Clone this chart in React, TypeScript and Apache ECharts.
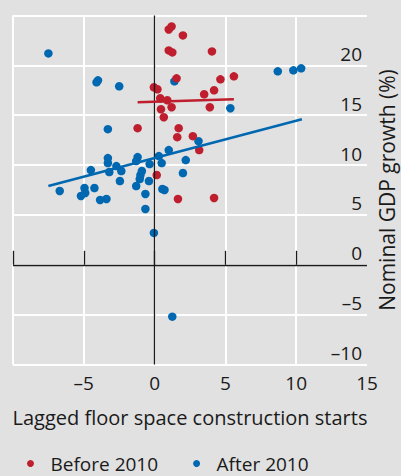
import React, { useEffect, useRef } from "react";
import * as echarts from "echarts";

const before2010: [number, number][] = [
  [1.0, 23.6], [1.2, 23.9], [2.0, 23.0], [1.0, 21.5], [1.25, 21.3], [4.05, 21.4],
  [1.55, 18.7], [4.65, 18.6], [5.6, 18.9], [-0.05, 17.8], [0.2, 17.6], [4.2, 17.5],
  [3.5, 17.1], [0.4, 16.7], [0.9, 16.5], [0.45, 15.6], [1.2, 15.8], [3.9, 15.8],
  [0.65, 14.8], [-1.2, 13.7], [1.7, 13.7], [1.6, 12.8], [2.7, 12.9], [3.15, 11.5],
  [0.15, 9.0], [1.65, 6.6], [4.2, 6.7],
];

const after2010: [number, number][] = [
  [-7.5, 21.2], [-4.0, 18.5], [-4.1, 18.3], [-2.5, 17.9], [1.4, 18.4], [-3.3, 13.6],
  [8.7, 19.4], [9.8, 19.5], [10.35, 19.7], [5.35, 15.7], [3.1, 12.4], [1.0, 11.5],
  [2.2, 10.5], [2.0, 9.2], [0.3, 10.9], [0.5, 10.2], [0.55, 7.6], [0.7, 7.5],
  [-0.05, 3.2], [1.25, -5.2], [-3.3, 10.7], [-3.3, 10.2], [-4.5, 9.5], [-2.7, 9.9],
  [-3.2, 9.3], [-2.35, 9.4], [-2.45, 8.4], [-1.2, 10.8], [-1.3, 10.4], [-0.35, 10.1],
  [-0.9, 9.4], [-1.0, 9.0], [-1.05, 8.6], [-0.4, 8.4], [-1.3, 7.9], [-0.65, 7.1],
  [-0.65, 5.6], [-6.7, 7.4], [-4.95, 7.7], [-4.9, 7.2], [-5.2, 6.9], [-4.25, 7.7],
  [-3.85, 6.5], [-3.4, 6.6],
];

const beforeTrend: [number, number][] = [[-1.2, 16.3], [5.6, 16.6]];
const afterTrend: [number, number][] = [[-7.5, 7.9], [10.4, 14.6]];

const xTickLabels = [-5, 0, 5, 10, 15];
const xTickMarks = [-10, -5, 0, 5, 10];
const yTickLabels = [-10, -5, 0, 5, 10, 15, 20];

const RED = "#be1e2d";
const BLUE = "#0067b1";
const BG = "#e1e1e1";
const TEXT = "#1a1a1a";
const FONT = "Open Sans";

const fmt = (v: number) => (v < 0 ? "\u2013" + Math.abs(v) : String(v));

export default function App() {
  const ref = useRef<HTMLDivElement>(null);
  useEffect(() => {
    document.body.style.margin = "0";
    document.body.style.background = BG;
    const chart = echarts.init(ref.current!, null, { renderer: "svg" });
    chart.setOption({
      animation: false,
      backgroundColor: BG,
      textStyle: { fontFamily: FONT },
      grid: {
        left: 13,
        right: 34,
        top: 15.5,
        bottom: 111.5,
        containLabel: false,
        outerBoundsMode: "none",
      },
      legend: {
        data: ["Before 2010", "After 2010"],
        left: 22,
        top: 449,
        icon: "circle",
        itemWidth: 30,
        itemHeight: 7,
        itemGap: 35,
        textStyle: { fontFamily: FONT, fontSize: 19, lineHeight: 18, color: TEXT },
      },
      xAxis: {
        type: "value",
        min: -10,
        max: 15,
        interval: 5,
        name: "Lagged floor space construction starts",
        nameLocation: "middle",
        nameGap: 43,
        nameTextStyle: { fontFamily: FONT, fontSize: 20, color: TEXT },
        axisLine: { show: false },
        axisTick: {
          show: true,
          inside: true,
          length: 14,
          customValues: xTickMarks,
          lineStyle: { color: "#1a1a1a", width: 1.3 },
        },
        axisLabel: {
          customValues: xTickLabels,
          margin: 9,
          fontFamily: FONT,
          fontSize: 19,
          color: TEXT,
          formatter: fmt,
        },
        splitLine: { show: true, lineStyle: { color: "#ffffff", width: 2 } },
      },
      yAxis: {
        type: "value",
        position: "right",
        min: -10,
        max: 25,
        interval: 5,
        name: "Nominal GDP growth (%)",
        nameLocation: "middle",
        nameGap: 9,
        nameTextStyle: { fontFamily: FONT, fontSize: 21, color: TEXT },
        axisLine: { show: false },
        axisTick: { show: false },
        axisLabel: {
          customValues: yTickLabels,
          inside: true,
          margin: 5,
          verticalAlign: "bottom",
          padding: [0, 0, 2, 0],
          fontFamily: FONT,
          fontSize: 19,
          color: TEXT,
          formatter: fmt,
        },
        splitLine: { show: true, lineStyle: { color: "#ffffff", width: 2 } },
      },
      series: [
        {
          type: "scatter",
          name: "zero",
          data: [],
          z: 1,
          silent: true,
          markLine: {
            silent: true,
            symbol: "none",
            label: { show: false },
            lineStyle: { color: "#1a1a1a", width: 1.3, type: "solid" },
            data: [{ xAxis: 0 }, { yAxis: 0 }],
          },
        },
        {
          type: "scatter",
          name: "After 2010",
          data: after2010,
          symbolSize: 8.5,
          itemStyle: { color: BLUE, opacity: 1 },
          z: 3,
        },
        {
          type: "scatter",
          name: "Before 2010",
          data: before2010,
          symbolSize: 8.5,
          itemStyle: { color: RED, opacity: 1 },
          z: 4,
        },
        {
          type: "line",
          name: "After trend",
          data: afterTrend,
          showSymbol: false,
          symbol: "none",
          lineStyle: { color: BLUE, width: 2.5 },
          z: 5,
        },
        {
          type: "line",
          name: "Before trend",
          data: beforeTrend,
          showSymbol: false,
          symbol: "none",
          lineStyle: { color: RED, width: 2.5 },
          z: 5,
        },
      ],
    });
    return () => chart.dispose();
  }, []);
  return <div ref={ref} style={{ width: 401, height: 476 }} />;
}
